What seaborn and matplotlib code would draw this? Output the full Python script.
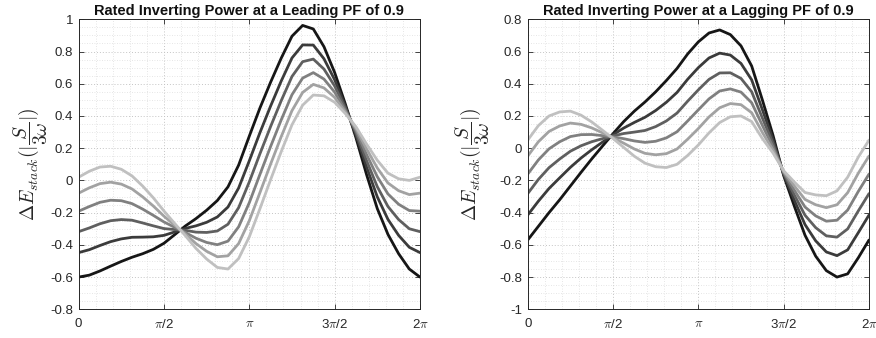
import numpy as np
import pandas as pd
import matplotlib
matplotlib.use("Agg")
import matplotlib.pyplot as plt
import seaborn as sns
from matplotlib.ticker import FixedLocator, MultipleLocator

# ---------------- data ----------------
samples_per_period = 32          # curves sampled every pi/16 over one period
x_tick_labels = ["0", r"$\pi$/2", r"$\pi$", r"3$\pi$/2", r"2$\pi$"]

titles = ["Rated Inverting Power at a Leading PF of 0.9",
          "Rated Inverting Power at a Lagging PF of 0.9"]
ylabel_text = r"$\Delta E_{stack}(|\dfrac{S}{3\omega}|)$"

lead_yticks = [-0.8, -0.6, -0.4, -0.2, 0, 0.2, 0.4, 0.6, 0.8, 1]
lag_yticks = [-1, -0.8, -0.6, -0.4, -0.2, 0, 0.2, 0.4, 0.6, 0.8]

lead_0 = [-0.600, -0.588, -0.562, -0.532, -0.503, -0.477, -0.455, -0.428, -0.390, -0.337, -0.283,
          -0.237, -0.185, -0.125, -0.040, 0.095, 0.275, 0.450, 0.610, 0.760, 0.895, 0.962, 0.940,
          0.830, 0.670, 0.475, 0.265, 0.035, -0.175, -0.335, -0.455, -0.550, -0.600]
lead_1 = [-0.448, -0.430, -0.404, -0.380, -0.363, -0.353, -0.352, -0.350, -0.341, -0.320, -0.298,
          -0.282, -0.260, -0.227, -0.165, -0.047, 0.122, 0.297, 0.462, 0.618, 0.760, 0.841, 0.840,
          0.755, 0.625, 0.460, 0.282, 0.082, -0.102, -0.242, -0.341, -0.415, -0.448]
lead_2 = [-0.318, -0.295, -0.269, -0.250, -0.243, -0.247, -0.264, -0.282, -0.299, -0.305, -0.310,
          -0.321, -0.323, -0.314, -0.272, -0.169, -0.009, 0.166, 0.335, 0.496, 0.645, 0.737, 0.753,
          0.691, 0.586, 0.448, 0.296, 0.122, -0.039, -0.162, -0.243, -0.300, -0.318]
lead_3 = [-0.191, -0.162, -0.136, -0.123, -0.126, -0.144, -0.178, -0.217, -0.258, -0.291, -0.323,
          -0.359, -0.385, -0.399, -0.377, -0.288, -0.138, 0.038, 0.211, 0.377, 0.532, 0.635, 0.669,
          0.629, 0.548, 0.435, 0.310, 0.160, 0.023, -0.084, -0.148, -0.187, -0.191]
lead_4 = [-0.079, -0.046, -0.020, -0.011, -0.023, -0.053, -0.102, -0.159, -0.222, -0.278, -0.333,
          -0.392, -0.440, -0.474, -0.468, -0.392, -0.250, -0.075, 0.102, 0.273, 0.433, 0.546, 0.596,
          0.574, 0.515, 0.425, 0.322, 0.195, 0.077, -0.016, -0.064, -0.088, -0.079]
lead_5 = [0.020, 0.057, 0.083, 0.088, 0.069, 0.028, -0.035, -0.108, -0.190, -0.267, -0.343,
          -0.422, -0.488, -0.540, -0.550, -0.485, -0.350, -0.175, 0.005, 0.180, 0.345, 0.467, 0.530,
          0.525, 0.485, 0.415, 0.333, 0.225, 0.125, 0.045, 0.010, 0.000, 0.020]

lag_0 = [-0.570, -0.485, -0.400, -0.320, -0.235, -0.150, -0.067, 0.012, 0.090, 0.165, 0.230,
         0.287, 0.350, 0.420, 0.495, 0.585, 0.660, 0.715, 0.734, 0.705, 0.635, 0.510, 0.300,
         0.080, -0.170, -0.360, -0.540, -0.670, -0.760, -0.800, -0.780, -0.680, -0.570]
lag_1 = [-0.415, -0.329, -0.250, -0.184, -0.119, -0.061, -0.010, 0.037, 0.083, 0.125, 0.160,
         0.192, 0.234, 0.285, 0.346, 0.428, 0.500, 0.560, 0.590, 0.578, 0.526, 0.424, 0.240,
         0.053, -0.163, -0.323, -0.474, -0.575, -0.644, -0.667, -0.631, -0.524, -0.415]
lag_2 = [-0.282, -0.194, -0.121, -0.067, -0.019, 0.015, 0.040, 0.059, 0.076, 0.091, 0.100,
         0.110, 0.134, 0.169, 0.218, 0.292, 0.362, 0.427, 0.467, 0.468, 0.433, 0.350, 0.188,
         0.029, -0.156, -0.290, -0.416, -0.493, -0.544, -0.552, -0.501, -0.389, -0.282]
lag_3 = [-0.161, -0.073, -0.004, 0.040, 0.072, 0.084, 0.085, 0.078, 0.070, 0.059, 0.045,
         0.036, 0.043, 0.064, 0.102, 0.169, 0.238, 0.306, 0.355, 0.368, 0.348, 0.282, 0.142,
         0.007, -0.150, -0.261, -0.365, -0.420, -0.453, -0.447, -0.384, -0.268, -0.161]
lag_4 = [-0.049, 0.040, 0.104, 0.138, 0.156, 0.148, 0.126, 0.096, 0.065, 0.031, -0.005,
         -0.032, -0.041, -0.034, -0.005, 0.056, 0.122, 0.194, 0.251, 0.277, 0.270, 0.220, 0.098,
         -0.012, -0.145, -0.234, -0.318, -0.351, -0.369, -0.351, -0.276, -0.155, -0.049]
lag_5 = [0.050, 0.140, 0.200, 0.225, 0.230, 0.205, 0.163, 0.112, 0.060, 0.005, -0.050,
         -0.093, -0.115, -0.120, -0.100, -0.045, 0.020, 0.095, 0.159, 0.195, 0.200, 0.165, 0.060,
         -0.030, -0.140, -0.210, -0.275, -0.290, -0.295, -0.265, -0.180, -0.055, 0.050]

lead_curves = [lead_0, lead_1, lead_2, lead_3, lead_4, lead_5]
lag_curves = [lag_0, lag_1, lag_2, lag_3, lag_4, lag_5]

# ---------------- style ----------------
sns.set_theme(style="ticks")
plt.rcParams["font.family"] = ["Liberation Sans", "DejaVu Sans"]
plt.rcParams["mathtext.fontset"] = "cm"

gray_palette = ["#161616", "#3b3b3b", "#5f5f5f", "#808080", "#a2a2a2", "#c0c0c0"]
axis_color = "#262626"

theta = np.linspace(0, 2 * np.pi, samples_per_period + 1)


def to_frame(curves):
    frames = []
    for i, vals in enumerate(curves):
        frames.append(pd.DataFrame({"theta": theta, "value": vals, "curve": f"c{i}"}))
    return pd.concat(frames, ignore_index=True)


fig = plt.figure(figsize=(8.76, 3.38), dpi=100)
ax_l = fig.add_axes([0.0898, 0.0849, 0.3896, 0.858])
ax_r = fig.add_axes([0.6024, 0.0849, 0.3896, 0.858])

panels = [
    (ax_l, lead_curves, lead_yticks, (-0.8, 1.0), titles[0], -0.085),
    (ax_r, lag_curves, lag_yticks, (-1.0, 0.8), titles[1], -0.105),
]

for ax, curves, yt, ylim, title, lab_x in panels:
    df = to_frame(curves)
    sns.lineplot(data=df, x="theta", y="value", hue="curve",
                 hue_order=[f"c{i}" for i in range(6)], palette=gray_palette,
                 linewidth=2.0, legend=False, estimator=None, errorbar=None,
                 sort=False, ax=ax, solid_joinstyle="round", solid_capstyle="round")
    ax.set_xlim(0, 2 * np.pi)
    ax.set_ylim(*ylim)
    ax.xaxis.set_major_locator(FixedLocator([0, np.pi / 2, np.pi, 3 * np.pi / 2, 2 * np.pi]))
    ax.set_xticklabels(x_tick_labels)
    ax.xaxis.set_minor_locator(MultipleLocator(np.pi / 10))
    ax.yaxis.set_major_locator(FixedLocator(yt))
    ax.set_yticklabels([("%g" % v) for v in yt])
    ax.yaxis.set_minor_locator(MultipleLocator(0.05))

    ax.set_axisbelow(True)
    ax.grid(True, which="major", linestyle=(0, (1, 2)), color="#c4c4c4", linewidth=0.7)
    ax.grid(True, which="minor", linestyle=(0, (1, 2)), color="#dedede", linewidth=0.6)

    ax.tick_params(which="major", direction="in", top=True, right=True, length=3.5,
                   width=0.6, color=axis_color, labelcolor=axis_color, labelsize=9.5)
    ax.tick_params(axis="y", which="major", pad=4)
    ax.tick_params(axis="x", which="major", pad=6)
    ax.tick_params(which="minor", length=0, top=True, right=True)
    for s in ax.spines.values():
        s.set_visible(True)
        s.set_color(axis_color)
        s.set_linewidth(0.7)

    ax.set_xlabel("")
    ax.set_ylabel(ylabel_text, fontsize=14, color=axis_color)
    ax.yaxis.set_label_coords(lab_x, 0.5)
    ax.set_title(title, fontsize=10.5, fontweight="bold", color="#111111", pad=3)

fig.savefig("out.png", dpi=100)
